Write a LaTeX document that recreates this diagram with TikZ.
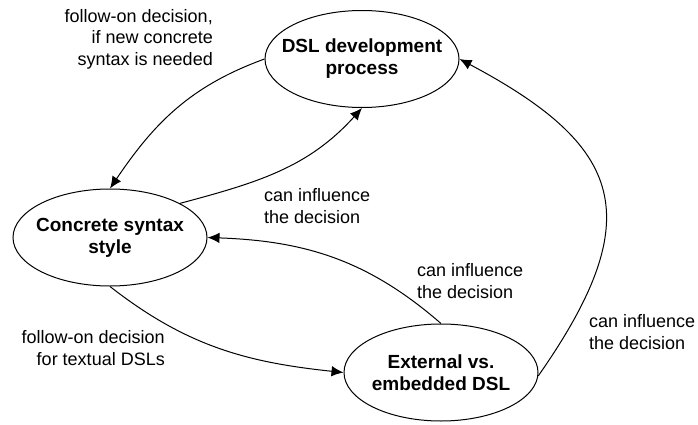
\documentclass[tikz,border=0pt]{standalone}
\usepackage{fontspec}
\setmainfont{Liberation Sans}
\usetikzlibrary{arrows.meta,shapes.geometric}
\begin{document}
\begin{tikzpicture}[x=1pt,y=1pt,
  decision/.style={ellipse, draw, line width=1pt, minimum width=194pt,
    minimum height=97pt, inner xsep=-15pt, inner ysep=0pt, align=center,
    font=\fontsize{19}{22}\selectfont\bfseries},
  link/.style={line width=1pt, -{Latex[length=12pt,width=10.5pt]}},
  note/.style={font=\fontsize{18}{21.5}\selectfont, inner sep=0pt}]
\useasboundingbox (0,0) rectangle (698,424);

% decision nodes
\node[decision] (dsl) at (362,365) {DSL development\\process};
\node[decision] (css) at (110,186.5) {Concrete syntax\\style};
\node[decision] (ext) at (441,51.5) {External vs.\\embedded DSL};

% influences between the decisions
\draw[link] (dsl.west) to[out=200, in=56] (css.north);
\draw[link] (css.26) to[out=15, in=228] (dsl.south);
\draw[link] (ext.north) to[out=139, in=-2] (css.east);
\draw[link] (css.south) to[out=-38, in=174] (ext.west);
\draw[link] (ext.-2) .. controls +(55:195) and +(-28:185) .. (dsl.east);

% edge annotations
\node[note, anchor=east, align=right] (n1) at (213,385)
  {follow-on decision,\\if new concrete\\syntax is needed};
\node[note, anchor=west, align=left] (n2) at (264,218)
  {can influence\\the decision};
\node[note, anchor=west, align=left] (n3) at (417,143)
  {can influence\\the decision};
\node[note, anchor=west, align=left] (n4) at (589,92)
  {can influence\\the decision};
\node[note, anchor=east, align=right] (n5) at (165,76)
  {follow-on decision\\for textual DSLs};
\end{tikzpicture}
\end{document}
